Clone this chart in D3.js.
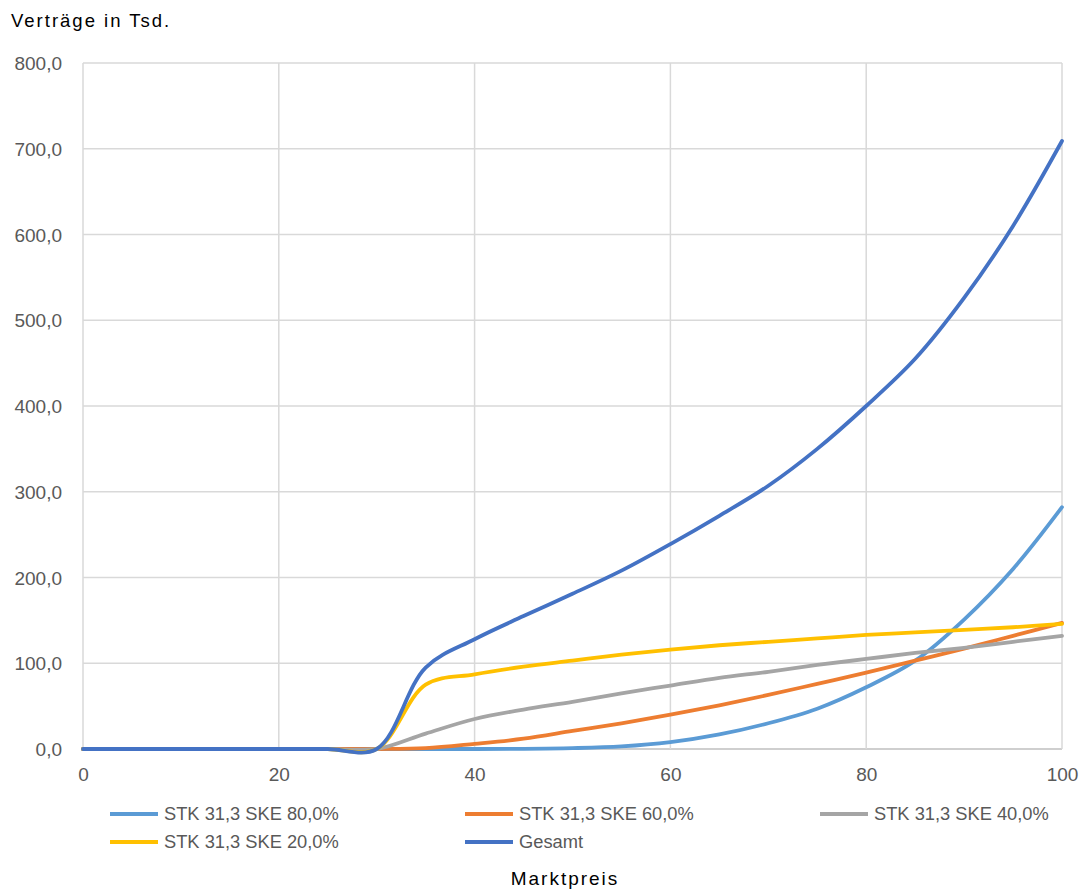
<!DOCTYPE html>
<html><head><meta charset="utf-8">
<script src="https://cdn.jsdelivr.net/npm/d3@7"></script>
<style>
html,body{margin:0;padding:0;background:#fff;}
text{font-family:"Liberation Sans",Arial,sans-serif;fill:#595959;}
</style></head>
<body><svg id="c" width="1084" height="890"></svg>
<script>
const marktpreis = [0,5,10,15,20,25,30,35,40,45,50,55,60,65,70,75,80,85,90,95,100];
const ske80 = [0,0,0,0,0,0,0,0,0,0.2,1,3,8,17,30,47,72,103,151,210,282];
const ske60 = [0,0,0,0,0,0,0,1,6,12,21,30,40,51,63,76,89,103,117,132,147];
const ske40 = [0,0,0,0,0,0,0,18,35,46,55,65,74,83,90,98,105,112,118,125,132];
const ske20 = [0,0,0,0,0,0,0,75,87,96,103,110,116,121,125,129,133,136,139,142,146];
const gesamt = [0,0,0,0,0,0,0,95,128,155,181,208,239,272,307,350,400,455,526,610,709];
const seriesNames = ["STK 31,3 SKE 80,0%","STK 31,3 SKE 60,0%","STK 31,3 SKE 40,0%","STK 31,3 SKE 20,0%","Gesamt"];
const seriesColors = ["#5B9BD5","#ED7D31","#A5A5A5","#FFC000","#4472C4"];
const xTicks = [0,20,40,60,80,100];
const yTicks = [0,100,200,300,400,500,600,700,800];
const yTitle = "Verträge in Tsd.";
const xTitle = "Marktpreis";

const svg = d3.select("#c");
const L=83,R=1062,T=63,B=749;
const x = d3.scaleLinear().domain([0,100]).range([L,R]);
const y = d3.scaleLinear().domain([0,800]).range([B,T]);
const fmt = v => d3.format(".1f")(v).replace(".",",");

// grid
svg.append("g").selectAll("line").data(yTicks).join("line")
  .attr("x1",L).attr("x2",R).attr("y1",d=>y(d)).attr("y2",d=>y(d))
  .attr("stroke",d=>d===0?"#bfbfbf":"#d9d9d9").attr("stroke-width",1.5);
svg.append("g").selectAll("line").data(xTicks).join("line")
  .attr("y1",T).attr("y2",B).attr("x1",d=>x(d)).attr("x2",d=>x(d))
  .attr("stroke","#d9d9d9").attr("stroke-width",1.5);

// axes labels
const yAxis = d3.axisLeft(y).tickValues(yTicks).tickFormat(fmt).tickSize(0).tickPadding(21);
const gy = svg.append("g").attr("transform",`translate(${L},0)`).call(yAxis);
gy.select(".domain").remove();
gy.selectAll("text").style("font-size","19px").attr("fill","#595959").attr("dy","0.35em");
const xAxis = d3.axisBottom(x).tickValues(xTicks).tickFormat(d3.format("d")).tickSize(0).tickPadding(19);
const gx = svg.append("g").attr("transform",`translate(0,${B})`).call(xAxis);
gx.select(".domain").remove();
gx.selectAll("text").style("font-size","19px").attr("fill","#595959");

// lines
const allSeries = [ske80,ske60,ske40,ske20,gesamt];
const line = d3.line().x((d,i)=>x(marktpreis[i])).y(d=>y(d)).curve(d3.curveCatmullRom.alpha(0.5));
allSeries.forEach((s,k)=>{
  svg.append("path").datum(s).attr("d",line).attr("fill","none")
    .attr("stroke",seriesColors[k]).attr("stroke-width",3.8).attr("stroke-linejoin","round").attr("stroke-linecap","round");
});

// titles
svg.append("text").attr("x",11).attr("y",27).style("font-size","18.5px").style("letter-spacing","2px").style("fill","#000").text(yTitle);
svg.append("text").attr("x",565).attr("y",885).attr("text-anchor","middle").style("font-size","19px").style("letter-spacing","2px").style("fill","#000").text(xTitle);

// legend
const legPos = [[110,814],[465,814],[820,814],[110,842],[465,842]];
seriesNames.forEach((n,k)=>{
  const [lx,ly]=legPos[k];
  svg.append("line").attr("x1",lx).attr("x2",lx+48).attr("y1",ly).attr("y2",ly)
    .attr("stroke",seriesColors[k]).attr("stroke-width",3.8);
  svg.append("text").attr("x",lx+54).attr("y",ly).attr("dy","0.35em").style("font-size","18.3px").text(n);
});
</script></body></html>
